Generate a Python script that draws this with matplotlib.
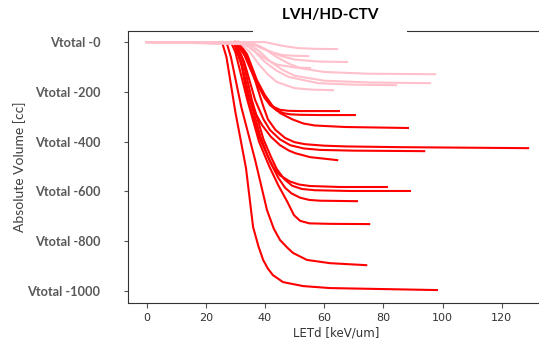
import matplotlib.pyplot as plt
from matplotlib.transforms import ScaledTranslation

# LETd [keV/um] vs absolute volume, one list per structure
red_let = [
	[25.5, 27.0, 30.0, 33.6, 36.0, 37.8, 39.4, 41.0, 42.7, 46.1, 52.9, 62.0, 98.1],
	[27.0, 28.5, 32.0, 36.7, 40.7, 43.0, 45.1, 47.5, 49.5, 54.2, 62.0, 74.2],
	[28.5, 30.0, 34.0, 38.0, 41.5, 44.5, 47.5, 49.8, 51.9, 55.0, 62.0, 75.2],
	[29.5, 32.0, 34.3, 38.0, 41.0, 43.0, 45.0, 48.5, 51.5, 55.2, 65.4, 81.2],
	[30.0, 32.5, 35.6, 39.5, 42.0, 44.0, 46.5, 49.2, 52.5, 56.9, 68.8, 89.0],
	[29.5, 32.0, 35.0, 38.5, 41.7, 44.5, 46.8, 49.0, 51.9, 55.0, 58.6, 71.1],
	[30.0, 33.0, 36.7, 40.0, 42.5, 45.1, 48.0, 51.9, 65.0],
	[30.5, 33.5, 37.7, 40.0, 41.7, 44.0, 46.5, 48.5, 52.0, 58.6, 70.4],
	[31.0, 34.0, 37.3, 40.0, 42.5, 45.1, 49.2, 53.0, 56.9, 67.1, 88.3],
	[31.0, 34.5, 37.7, 39.5, 41.0, 43.5, 46.8, 50.0, 53.5, 60.0, 67.1, 85.6, 128.9],
	[30.0, 33.0, 36.7, 39.5, 41.7, 45.0, 48.5, 53.0, 58.6, 70.0, 93.8],
	[29.5, 32.0, 34.3, 37.0, 39.0, 42.0, 45.1, 48.0, 50.2, 55.2, 64.4],
]
red_vol = [
	[0, -60, -280, -506, -743, -820, -875, -910, -936, -964, -980, -988, -996],
	[0, -60, -260, -474, -675, -750, -795, -825, -847, -875, -888, -896],
	[0, -40, -230, -400, -500, -575, -640, -695, -718, -728, -730, -731],
	[0, -80, -233, -380, -460, -505, -535, -560, -572, -578, -582, -582],
	[0, -70, -233, -390, -460, -510, -550, -577, -590, -595, -598, -598],
	[0, -80, -233, -380, -480, -545, -585, -608, -625, -634, -637, -639],
	[0, -50, -153, -225, -258, -272, -276, -277, -277],
	[0, -60, -173, -225, -253, -275, -286, -290, -292, -293, -293],
	[0, -50, -153, -213, -255, -285, -310, -327, -335, -341, -345],
	[0, -70, -193, -260, -310, -352, -385, -402, -410, -416, -419, -422, -426],
	[0, -80, -233, -310, -353, -390, -414, -427, -433, -436, -438],
	[0, -90, -213, -290, -333, -380, -414, -435, -446, -462, -474],
]
pink_let = [
	[0, 40.0, 46.0, 51.0, 57.0, 64.4],
	[0, 33.0, 37.0, 40.0, 43.0, 46.0, 50.0, 54.6],
	[0, 35.0, 38.5, 42.0, 46.0, 50.0, 58.0, 67.7],
	[0, 32.0, 35.0, 38.0, 41.0, 44.0, 50.0, 55.2],
	[0, 36.0, 40.0, 44.0, 48.0, 52.0, 60.0, 75.0, 97.5],
	[0, 34.0, 38.0, 42.0, 46.0, 50.0, 60.0, 75.0, 95.8],
	[0, 33.0, 36.5, 40.0, 44.0, 48.0, 58.0, 70.0, 84.3],
	[0, 32.0, 35.0, 38.0, 41.0, 44.0, 50.0, 56.0, 63.0],
]
pink_vol = [
	[0, 0, -15, -24, -27, -28],
	[0, -4, -15, -30, -43, -52, -55, -56],
	[0, -4, -18, -40, -58, -70, -78, -80],
	[0, -4, -22, -50, -73, -90, -102, -104],
	[0, -6, -28, -60, -86, -105, -120, -127, -129],
	[0, -6, -35, -80, -112, -135, -155, -162, -165],
	[0, -6, -38, -80, -115, -140, -165, -171, -173],
	[0, -8, -42, -90, -130, -160, -185, -191, -193],
]
yticks = [0, -200, -400, -600, -800, -1000]
ylabels = ['Vtotal -0', 'Vtotal -200', 'Vtotal -400', 'Vtotal -600', 'Vtotal -800', 'Vtotal -1000']

fig = plt.figure(figsize=(5.39, 3.45), dpi=100)
ax = fig.add_axes([0.2375, 0.1217, 0.772, 0.788])

for i in range(len(red_let)):
	ax.plot(red_let[i], red_vol[i], color='red', lw=1.5)
for i in range(len(pink_let)):
	ax.plot(pink_let[i], pink_vol[i], color='pink', lw=1.5)

ax.set_xlim(-6.25, 134.3)
ax.set_ylim(-1048, 44)
ax.set_xticks([0, 20, 40, 60, 80, 100, 120])
ax.set_yticks(yticks)
ax.set_yticklabels(ylabels, family='Lato', fontweight='bold', fontsize=9.2, color='#595959')
for lab in ax.get_yticklabels():
	lab.set_transform(lab.get_transform() + ScaledTranslation(0, -5 / 72, fig.dpi_scale_trans))
ax.tick_params(axis='y', length=3, pad=17, color='#555555')
ax.tick_params(axis='x', length=3.5, labelsize=8, labelcolor='#333333', color='#555555')
ax.spines['right'].set_visible(False)
for s in ['left', 'bottom', 'top']:
	ax.spines[s].set_color('#333333')

ax.set_xlabel('LETd [keV/um]', fontsize=8.5, color='#333333', labelpad=3)
ax.set_ylabel('Absolute Volume [cc]', family='Lato', fontsize=10, color='#404040')
ax.yaxis.set_label_coords(-0.245, 0.5)

t = ax.set_title('    LVH/HD-CTV    ', family='Lato', fontweight='bold', fontsize=11, pad=9,
	bbox=dict(facecolor='white', edgecolor='none', boxstyle='square,pad=0.9'))
t.set_x(0.486)

fig.savefig('out.png', dpi=100)
